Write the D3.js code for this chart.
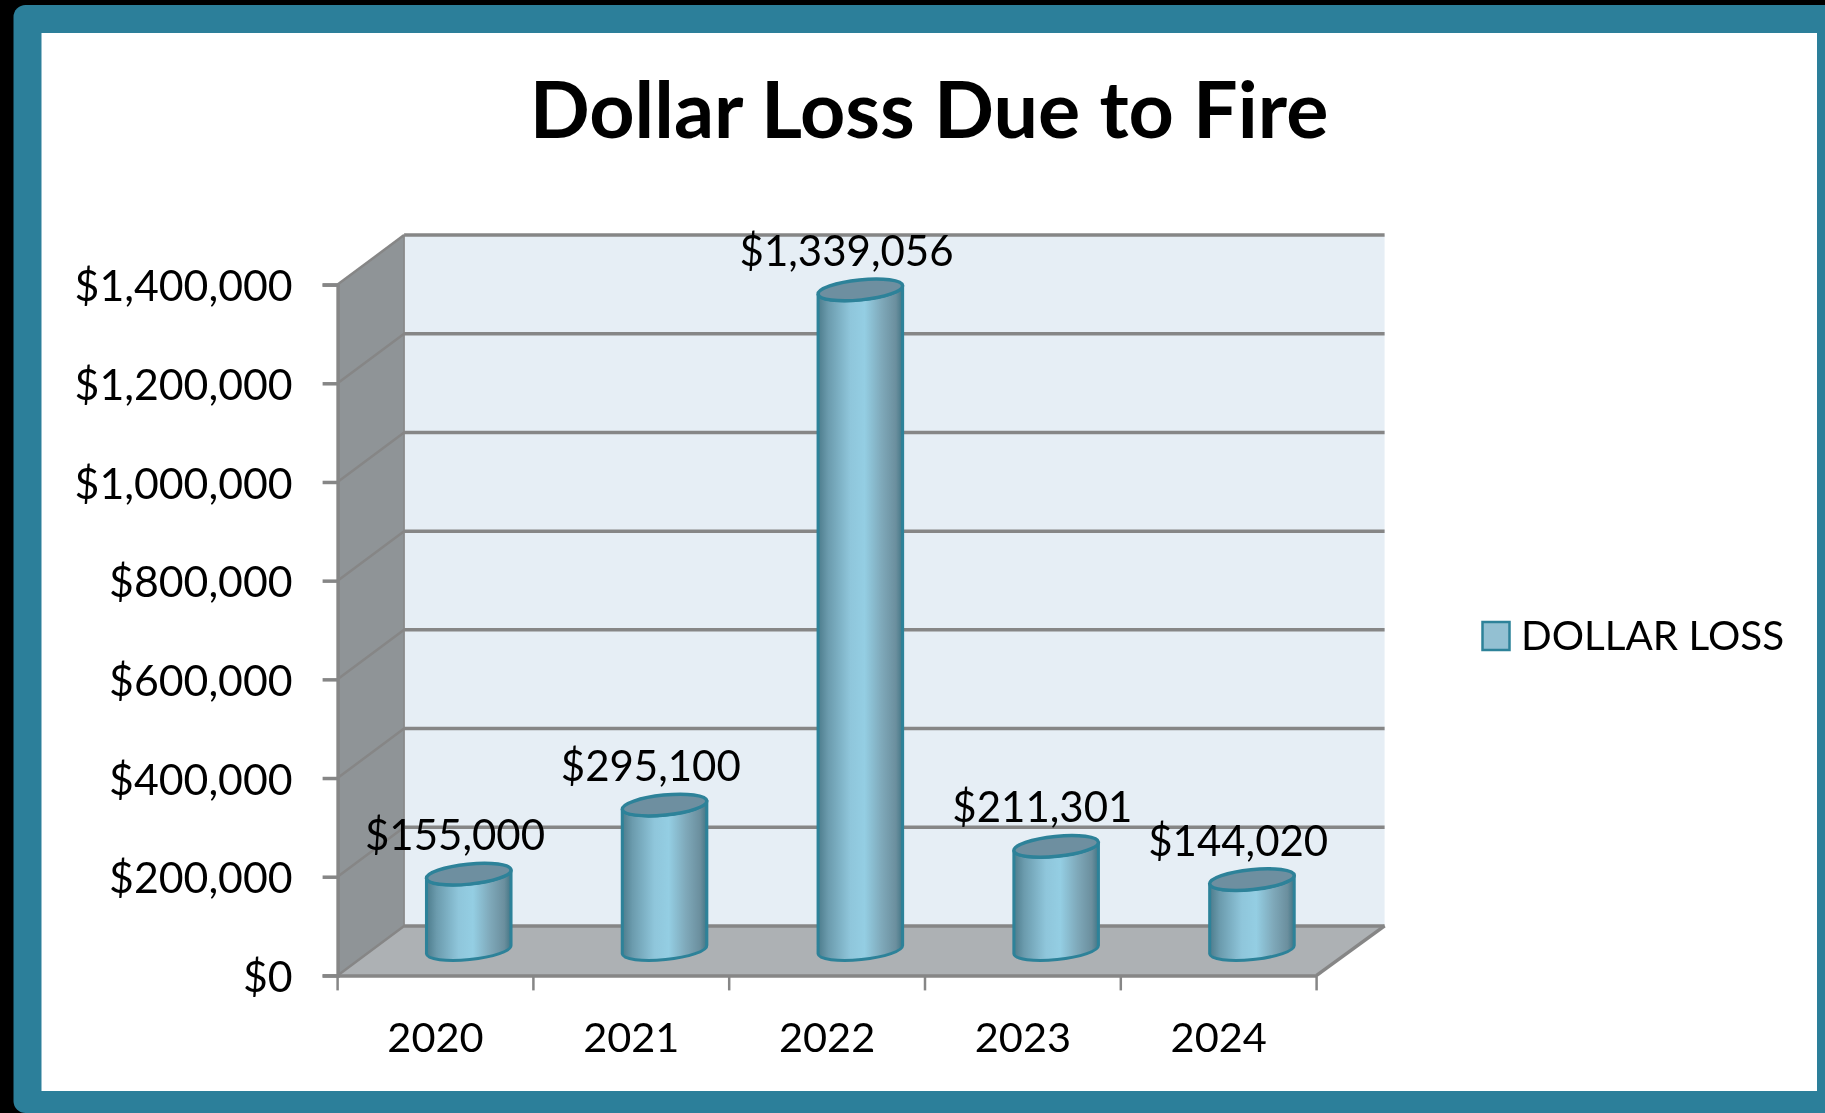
<!DOCTYPE html>
<html><head><meta charset="utf-8">
<script src="https://cdnjs.cloudflare.com/ajax/libs/d3/7.8.5/d3.min.js"></script>
<style>html,body{margin:0;padding:0;background:#000;overflow:hidden}svg{display:block;filter:blur(0.6px)}text{font-family:Lato,sans-serif;fill:#000}</style>
</head><body><svg id="c" width="1825" height="1113"></svg>
<script>
const categories=["2020","2021","2022","2023","2024"];
const lossValues=[155000,295100,1339056,211301,144020];
const valueLabels=["$155,000","$295,100","$1,339,056","$211,301","$144,020"];
const yTicks=[0,200000,400000,600000,800000,1000000,1200000,1400000];
const titleText="Dollar Loss Due to Fire";
const seriesName="DOLLAR LOSS";

const svg=d3.select("#c");
const L=337.6,R=1316.6,B=975.4,T=284.6,DX=66.5,DY=49.5,RIGHT_EXT=1.5;
const x=d3.scaleBand().domain(categories).range([L,R]).paddingInner(0).paddingOuter(0);
const y=d3.scaleLinear().domain([0,1400000]).range([B,T]);
const GRID="#868686";
const fmt=d3.format("$,");

svg.append("rect").attr("width",1825).attr("height",1113).attr("fill","#000");
svg.append("rect").attr("x",13.5).attr("y",5).attr("width",1860).attr("height",1108).attr("rx",12).attr("fill","#2c7f9a");
svg.append("rect").attr("x",41.5).attr("y",33).attr("width",1775.5).attr("height",1058).attr("fill","#fff");

const defs=svg.append("defs");
const g=defs.append("linearGradient").attr("id","cyl");
[[0,"#4d7c8c"],[0.12,"#6b9bad"],[0.38,"#8fc6db"],[0.55,"#94cee3"],[0.75,"#7fa9ba"],[0.92,"#6b8f9e"],[1,"#427686"]]
 .forEach(s=>g.append("stop").attr("offset",s[0]).attr("stop-color",s[1]));

// walls
const yTop=y(1400000), yBot=y(0), RB=R+DX+RIGHT_EXT;
svg.append("rect").attr("x",L+DX).attr("y",yTop-DY).attr("width",RB-L-DX).attr("height",yBot-yTop).attr("fill","#e6eef5");
svg.append("path").attr("d",`M${L},${yBot}L${L},${yTop}L${L+DX},${yTop-DY}L${L+DX},${yBot-DY}Z`).attr("fill","#8f9497");
svg.append("path").attr("d",`M${L},${yBot}L${L+DX},${yBot-DY}L${RB},${yBot-DY}L${R},${yBot}Z`).attr("fill","#adb1b4");

// grid
const gt=yTicks.slice(1);
svg.append("g").selectAll("line").data(gt).join("line")
 .attr("x1",L+DX).attr("x2",RB).attr("y1",d=>y(d)-DY).attr("y2",d=>y(d)-DY)
 .attr("stroke",GRID).attr("stroke-width",3.5);
svg.append("g").selectAll("line").data(yTicks).join("line")
 .attr("x1",L).attr("x2",L+DX).attr("y1",d=>y(d)).attr("y2",d=>y(d)-DY)
 .attr("stroke",GRID).attr("stroke-width",2.5);
svg.append("line").attr("x1",L+DX).attr("x2",RB).attr("y1",yBot-DY).attr("y2",yBot-DY).attr("stroke",GRID).attr("stroke-width",3.5);
svg.append("line").attr("x1",R).attr("x2",RB).attr("y1",yBot).attr("y2",yBot-DY).attr("stroke",GRID).attr("stroke-width",3.5);
svg.append("line").attr("x1",L+DX).attr("x2",L+DX).attr("y1",yTop-DY).attr("y2",yBot-DY).attr("stroke",GRID).attr("stroke-width",1.5);

// axes
const yAxis=d3.axisLeft(y).tickValues(yTicks).tickFormat(fmt).tickSize(15).tickPadding(30);
const ga=svg.append("g").attr("transform",`translate(${L},2.5)`).call(yAxis);
ga.select(".domain").attr("transform","translate(0,-2.5)").attr("stroke",GRID).attr("stroke-width",3.5);
ga.selectAll(".tick line").attr("transform","translate(0,-2.5)").attr("stroke",GRID).attr("stroke-width",3.5);
ga.selectAll("text").style("font-size","42.8px").style("font-family","Lato");

const xb=svg.append("g").attr("transform",`translate(0,${B})`).call(d3.axisBottom(x).tickSize(0).tickPadding(47));
xb.select(".domain").attr("stroke",GRID).attr("stroke-width",3.5);
xb.selectAll("text").style("font-size","41.5px").style("font-family","Lato");
const boundaries=d3.range(categories.length+1).map(i=>L+i*x.step());
svg.append("g").selectAll("line").data(boundaries).join("line")
 .attr("x1",d=>d).attr("x2",d=>d).attr("y1",B).attr("y2",B+15).attr("stroke",GRID).attr("stroke-width",2.5);

// cylinders
const RX=42.5,RY=10,TILT=-5.8,rad=TILT*Math.PI/180;
const ex=RX*Math.cos(rad),ey=-RX*Math.sin(rad);
const data=categories.map((c,i)=>({c,v:lossValues[i],label:valueLabels[i]}));
const bars=svg.append("g").selectAll("g").data(data).join("g")
 .attr("transform",d=>`translate(${x(d.c)+x.bandwidth()/2+DX/2},0)`);
bars.append("path").attr("fill","url(#cyl)").attr("stroke","#2d8299").attr("stroke-width",3)
 .attr("d",d=>{const t=y(d.v)-DY/2,b=y(0)-DY/2-1;
  return `M${-ex},${t+ey}L${-ex},${b+ey}A${RX},${RY} ${TILT} 0 0 ${ex},${b-ey}L${ex},${t-ey}A${RX},${RY} ${TILT} 0 1 ${-ex},${t+ey}Z`;});
bars.append("ellipse").attr("rx",RX).attr("ry",RY)
 .attr("transform",d=>`translate(0,${y(d.v)-DY/2}) rotate(${TILT})`)
 .attr("fill","#6e8fa0").attr("stroke","#2d8299").attr("stroke-width",3.5);

// labels
svg.append("g").selectAll("text").data(data).join("text")
 .attr("x",d=>x(d.c)+x.bandwidth()/2+19.5)
 .attr("y",d=>y(d.v)-DY/2-40)
 .attr("text-anchor","middle").attr("dominant-baseline","central")
 .style("font-size","42px").text(d=>d.label);

// title
svg.append("text").attr("x",929).attr("y",138).attr("text-anchor","middle")
 .style("font-size","79px").style("font-weight","700").text(titleText);

// legend
svg.append("rect").attr("x",1482.5).attr("y",622).attr("width",27).attr("height",28)
 .attr("fill","#93c0d2").attr("stroke","#2d8299").attr("stroke-width",2.5);
svg.append("text").attr("x",1521).attr("y",650).style("font-size","40.4px").text(seriesName);
</script></body></html>
